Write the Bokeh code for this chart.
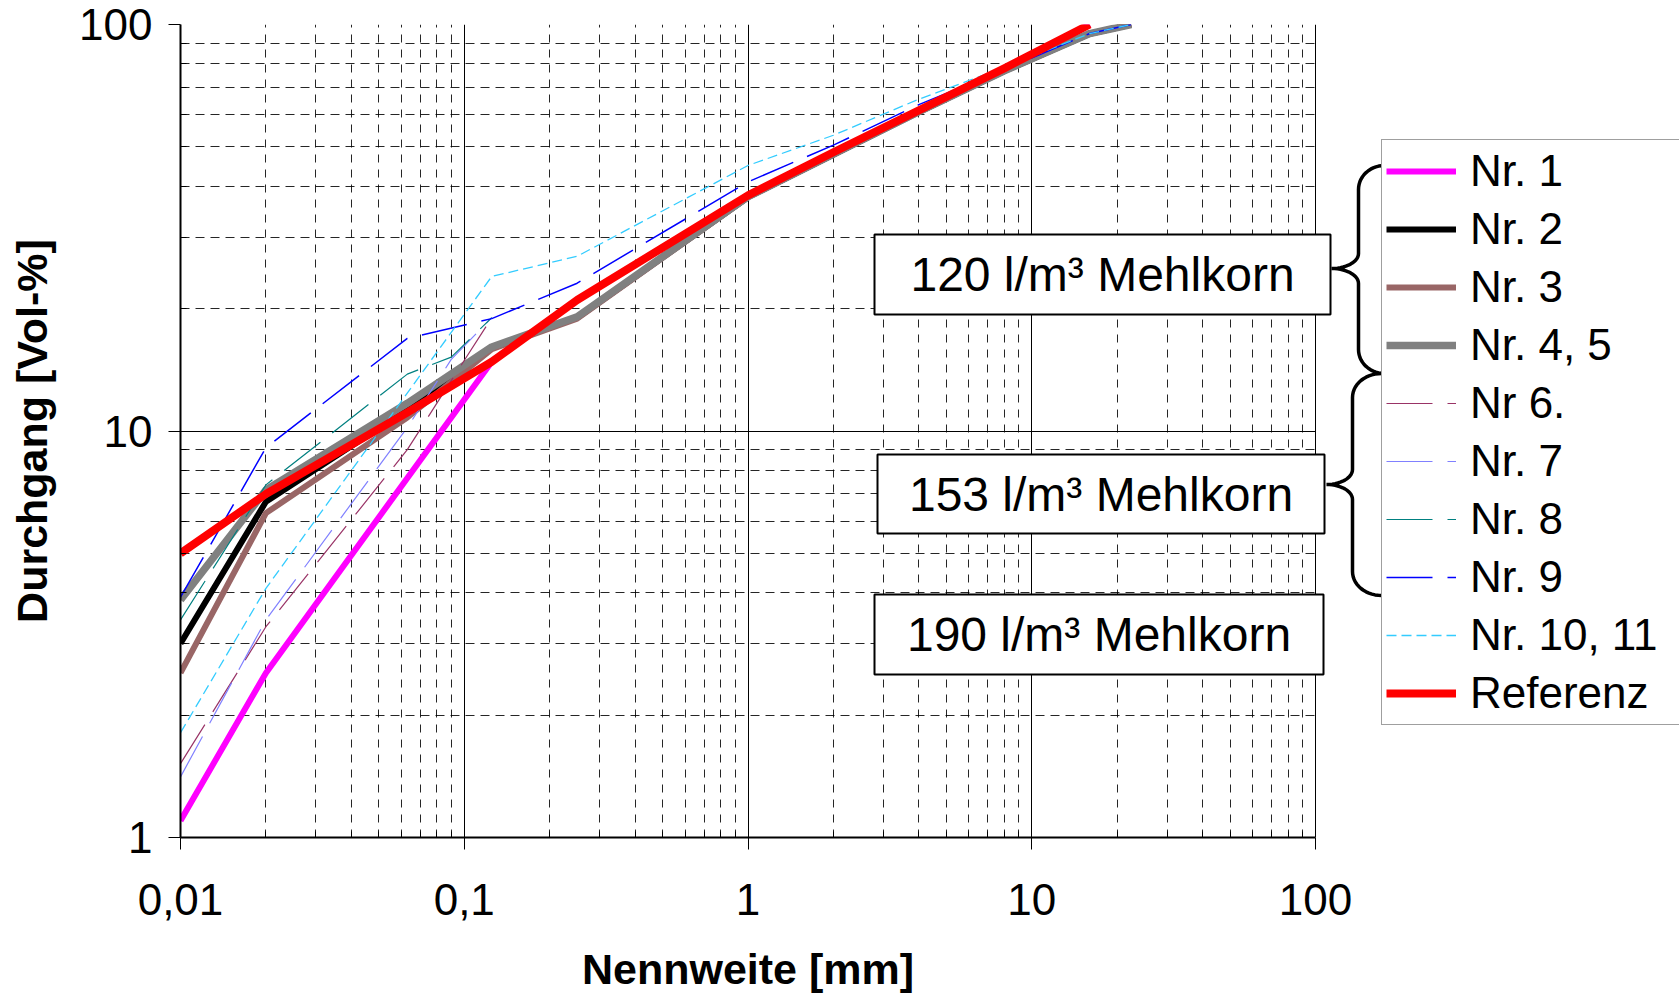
import math
from bokeh.plotting import figure
from bokeh.models import (Range1d, FixedTicker, CustomJSTickFormatter, Legend, LegendItem,
                          BoxAnnotation, Label, PolyAnnotation, Title)
from bokeh.embed import file_html
from bokeh.resources import INLINE

# ---------------- data ----------------
sieve = [0.01, 0.02, 0.063, 0.09, 0.125, 0.25, 0.5, 1, 2, 4, 8, 16, 22.4]
nr1 = [1.10, 2.54, None, None, 14.8, 21.0, None, 38.0, 48.5, 61.5, 78.0, 100.0, None]
nr2 = [3.0, 6.7, 11.3, None, 16.0, 19.0, None, 37.6, 47.9, 60.9, 76.8, 94.9, 100.0]
nr3 = [2.54, 6.28, 10.8, None, 15.9, 18.9, None, 37.6, 47.9, 60.9, 76.8, 94.9, 100.0]
nr45 = [3.84, 7.16, 11.7, None, 16.1, 19.1, None, 37.7, 48.0, 61.0, 76.9, 95.0, 100.0]
nr6 = [1.52, 3.30, 9.0, 13.3, 19.0, None, None, None, None, None, None, None, None]
nr7 = [1.41, 3.43, 10.2, 15.0, 19.0, None, None, None, None, None, None, None, None]
nr8 = [3.43, 7.37, 13.8, 15.2, 19.0, None, None, None, None, None, None, None, None]
nr9 = [3.9, 9.1, 16.9, None, 18.9, 23.1, None, 41.0, 50.5, 63.5, 77.5, 95.0, 100.0]
nr1011 = [1.81, 4.1, None, None, 24.0, 26.9, None, 45.0, 53.4, 65.5, 78.5, 95.0, 100.0]
referenz = [5.0, 7.0, 11.1, None, 14.8, 21.0, None, 38.0, 48.5, 61.5, 78.0, 100.0, None]

labels = ["Nr. 1", "Nr. 2", "Nr. 3", "Nr. 4, 5", "Nr 6.", "Nr. 7", "Nr. 8", "Nr. 9",
          "Nr. 10, 11", "Referenz"]
series = [nr1, nr2, nr3, nr45, nr6, nr7, nr8, nr9, nr1011, referenz]

x_major = [0.01, 0.1, 1, 10, 100]
y_major = [1, 10, 100]
x_title = "Nennweite [mm]"
y_title = "Durchgang [Vol-%]"
box_texts = ["120 l/m³ Mehlkorn", "153 l/m³ Mehlkorn", "190 l/m³ Mehlkorn"]

# ---------------- styles ----------------
colors = ["#FF00FF", "#000000", "#996666", "#808080", "#993366", "#8080FF",
          "#008080", "#0000FF", "#33CCFF", "#FF0000"]
widths = [6, 6, 6, 7.5, 1.2, 1.2, 1.2, 1.5, 1.3, 8]
dashes = ["solid", "solid", "solid", "solid", "46 15", "46 15", "46 15", "46 15",
          "10 5", "solid"]

FONT = "Liberation Sans"
W, H = 1679, 993
# plot area in page pixels; the frame itself runs on to the right edge so that
# the legend, boxes and braces (annotations) are not clipped
FL, FT, FR, FB = 180, 24, 1315, 837
dec = (FR - FL) / 4.0
x_end = x_major[-1] * 10 ** ((W - FR) / dec)

p = figure(width=W, height=H, x_axis_type="log", y_axis_type="log",
           x_range=Range1d(x_major[0], x_end), y_range=Range1d(y_major[0], y_major[-1]),
           output_backend="svg", toolbar_location=None,
           min_border_left=FL, min_border_right=0,
           min_border_top=FT, min_border_bottom=H - FB)
p.background_fill_color = "white"
p.border_fill_color = "white"
p.outline_line_color = None

x_minor = [m * d for d in x_major[:-1] for m in range(2, 10)]
y_minor = [m * d for d in y_major[:-1] for m in range(2, 10)]
p.xaxis.ticker = FixedTicker(ticks=x_major, minor_ticks=x_minor)
p.yaxis.ticker = FixedTicker(ticks=y_major, minor_ticks=y_minor)
fmt = CustomJSTickFormatter(code="return String(Number(tick.toPrecision(6))).replace('.', ',');")
p.xaxis.formatter = fmt
p.yaxis.formatter = fmt
p.xaxis.bounds = (x_major[0], x_major[-1])

for ax in (p.xaxis, p.yaxis):
    ax.axis_line_width = 2
    ax.axis_line_color = "black"
    ax.major_tick_out = 12
    ax.major_tick_in = 0
    ax.major_tick_line_color = "black"
    ax.minor_tick_in = 6
    ax.minor_tick_out = 0
    ax.minor_tick_line_color = "black"
    ax.major_label_text_font = FONT
    ax.major_label_text_font_size = "44px"
    ax.major_label_text_color = "black"
    ax.axis_label_text_font = FONT
    ax.axis_label_text_font_style = "bold"
    ax.axis_label_text_color = "black"

p.yaxis.axis_label = y_title
p.yaxis.axis_label_text_font_size = "43px"
p.xaxis.major_label_standoff = 34
p.yaxis.major_label_standoff = 16
p.yaxis.axis_label_standoff = 20
# blank spacer label on the x axis: pushes the title below down to the page edge
p.xaxis.axis_label = " "
p.xaxis.axis_label_text_font_size = "8px"
p.xaxis.axis_label_standoff = 13

# x-axis title, centred under the plot area (not under the whole frame)
title_px = 43
title_w = 7.723 * title_px
p.add_layout(Title(text=x_title, align="left", offset=(FR + FL) / 2 - FL - title_w / 2,
                   text_font=FONT, text_font_size=f"{title_px}px", text_font_style="bold",
                   text_color="black", standoff=0), "below")

for g in (p.xgrid, p.ygrid):
    g.grid_line_color = "black"
    g.grid_line_width = 1
    g.minor_grid_line_color = "black"
    g.minor_grid_line_width = 1
    g.minor_grid_line_alpha = 0.85
p.xgrid.minor_grid_line_dash = "8 7"
p.ygrid.minor_grid_line_dash = "9 6"
p.ygrid.cross_bounds = (x_major[0], x_major[-1])

renderers = []
for vals, c, w, d in zip(series, colors, widths, dashes):
    xs = [s for s, v in zip(sieve, vals) if v is not None]
    ys = [v for v in vals if v is not None]
    r = p.line(xs, ys, line_color=c, line_width=w, line_dash=d, line_join="round")
    renderers.append(r)

# ------------- helpers for frame-relative screen units -------------
def sx(X):
    return X - FL

def sy(Y):
    return FB - Y

# ---------------- annotation boxes ----------------
boxes = [(874, 234, 1330, 314), (877, 454, 1324, 533), (874, 594, 1323, 674)]
for (l, t, r_, b), txt in zip(boxes, box_texts):
    p.add_layout(BoxAnnotation(left=sx(l), right=sx(r_), top=sy(t), bottom=sy(b),
                               left_units="screen", right_units="screen",
                               top_units="screen", bottom_units="screen",
                               fill_color="white", fill_alpha=1.0,
                               line_color="black", line_width=2, line_alpha=1.0))
    p.add_layout(Label(x=sx((l + r_) / 2), y=sy((t + b) / 2), x_units="screen", y_units="screen",
                       text=txt, text_align="center", text_baseline="middle",
                       text_font=FONT, text_font_size="48px", text_color="black"))

# ---------------- braces ----------------
def brace(x_right, x_stem, x_tip, y_top, y_mid, y_bot, r=24, rt=15, n=14):
    pts = []
    a = x_right - x_stem
    a2 = x_stem - x_tip
    for i in range(n + 1):
        t = (math.pi / 2) * i / n
        pts.append((x_right - a * math.sin(t), y_top + r - r * math.cos(t)))
    for i in range(n + 1):
        t = (math.pi / 2) * i / n
        pts.append((x_tip + a2 * math.cos(t), y_mid - rt + rt * math.sin(t)))
    for i in range(n + 1):
        t = (math.pi / 2) * i / n
        pts.append((x_tip + a2 * math.sin(t), y_mid + rt - rt * math.cos(t)))
    for i in range(n + 1):
        t = (math.pi / 2) * i / n
        pts.append((x_right - a * math.cos(t), y_bot - r + r * math.sin(t)))
    path = pts + pts[::-1]
    return [sx(q[0]) for q in path], [sy(q[1]) for q in path]

for spec in [(1384, 1358, 1331, 165, 268, 373), (1381, 1352, 1326, 373, 484, 595)]:
    bx, by = brace(*spec)
    p.add_layout(PolyAnnotation(xs=bx, ys=by, xs_units="screen", ys_units="screen",
                                fill_alpha=0.0, line_color="black", line_width=3.5,
                                line_alpha=1.0))

# ---------------- legend ----------------
items = [LegendItem(label=lab, renderers=[r]) for lab, r in zip(labels, renderers)]
leg_top = 141
leg_h = 10 * 54 + 9 * 4 + 2 * 4
legend = Legend(items=items, location=(sx(1381), sy(leg_top + leg_h)),
                label_text_font=FONT, label_text_font_size="44px",
                label_text_color="black", label_height=54, glyph_height=54,
                glyph_width=70, label_standoff=14, spacing=4, padding=4, margin=0,
                label_width=212, border_line_color="#404040", border_line_width=1.5,
                background_fill_color="white", background_fill_alpha=1.0)
p.add_layout(legend)

open("out.html", "w").write(file_html(p, INLINE, title="Sieblinien"))
